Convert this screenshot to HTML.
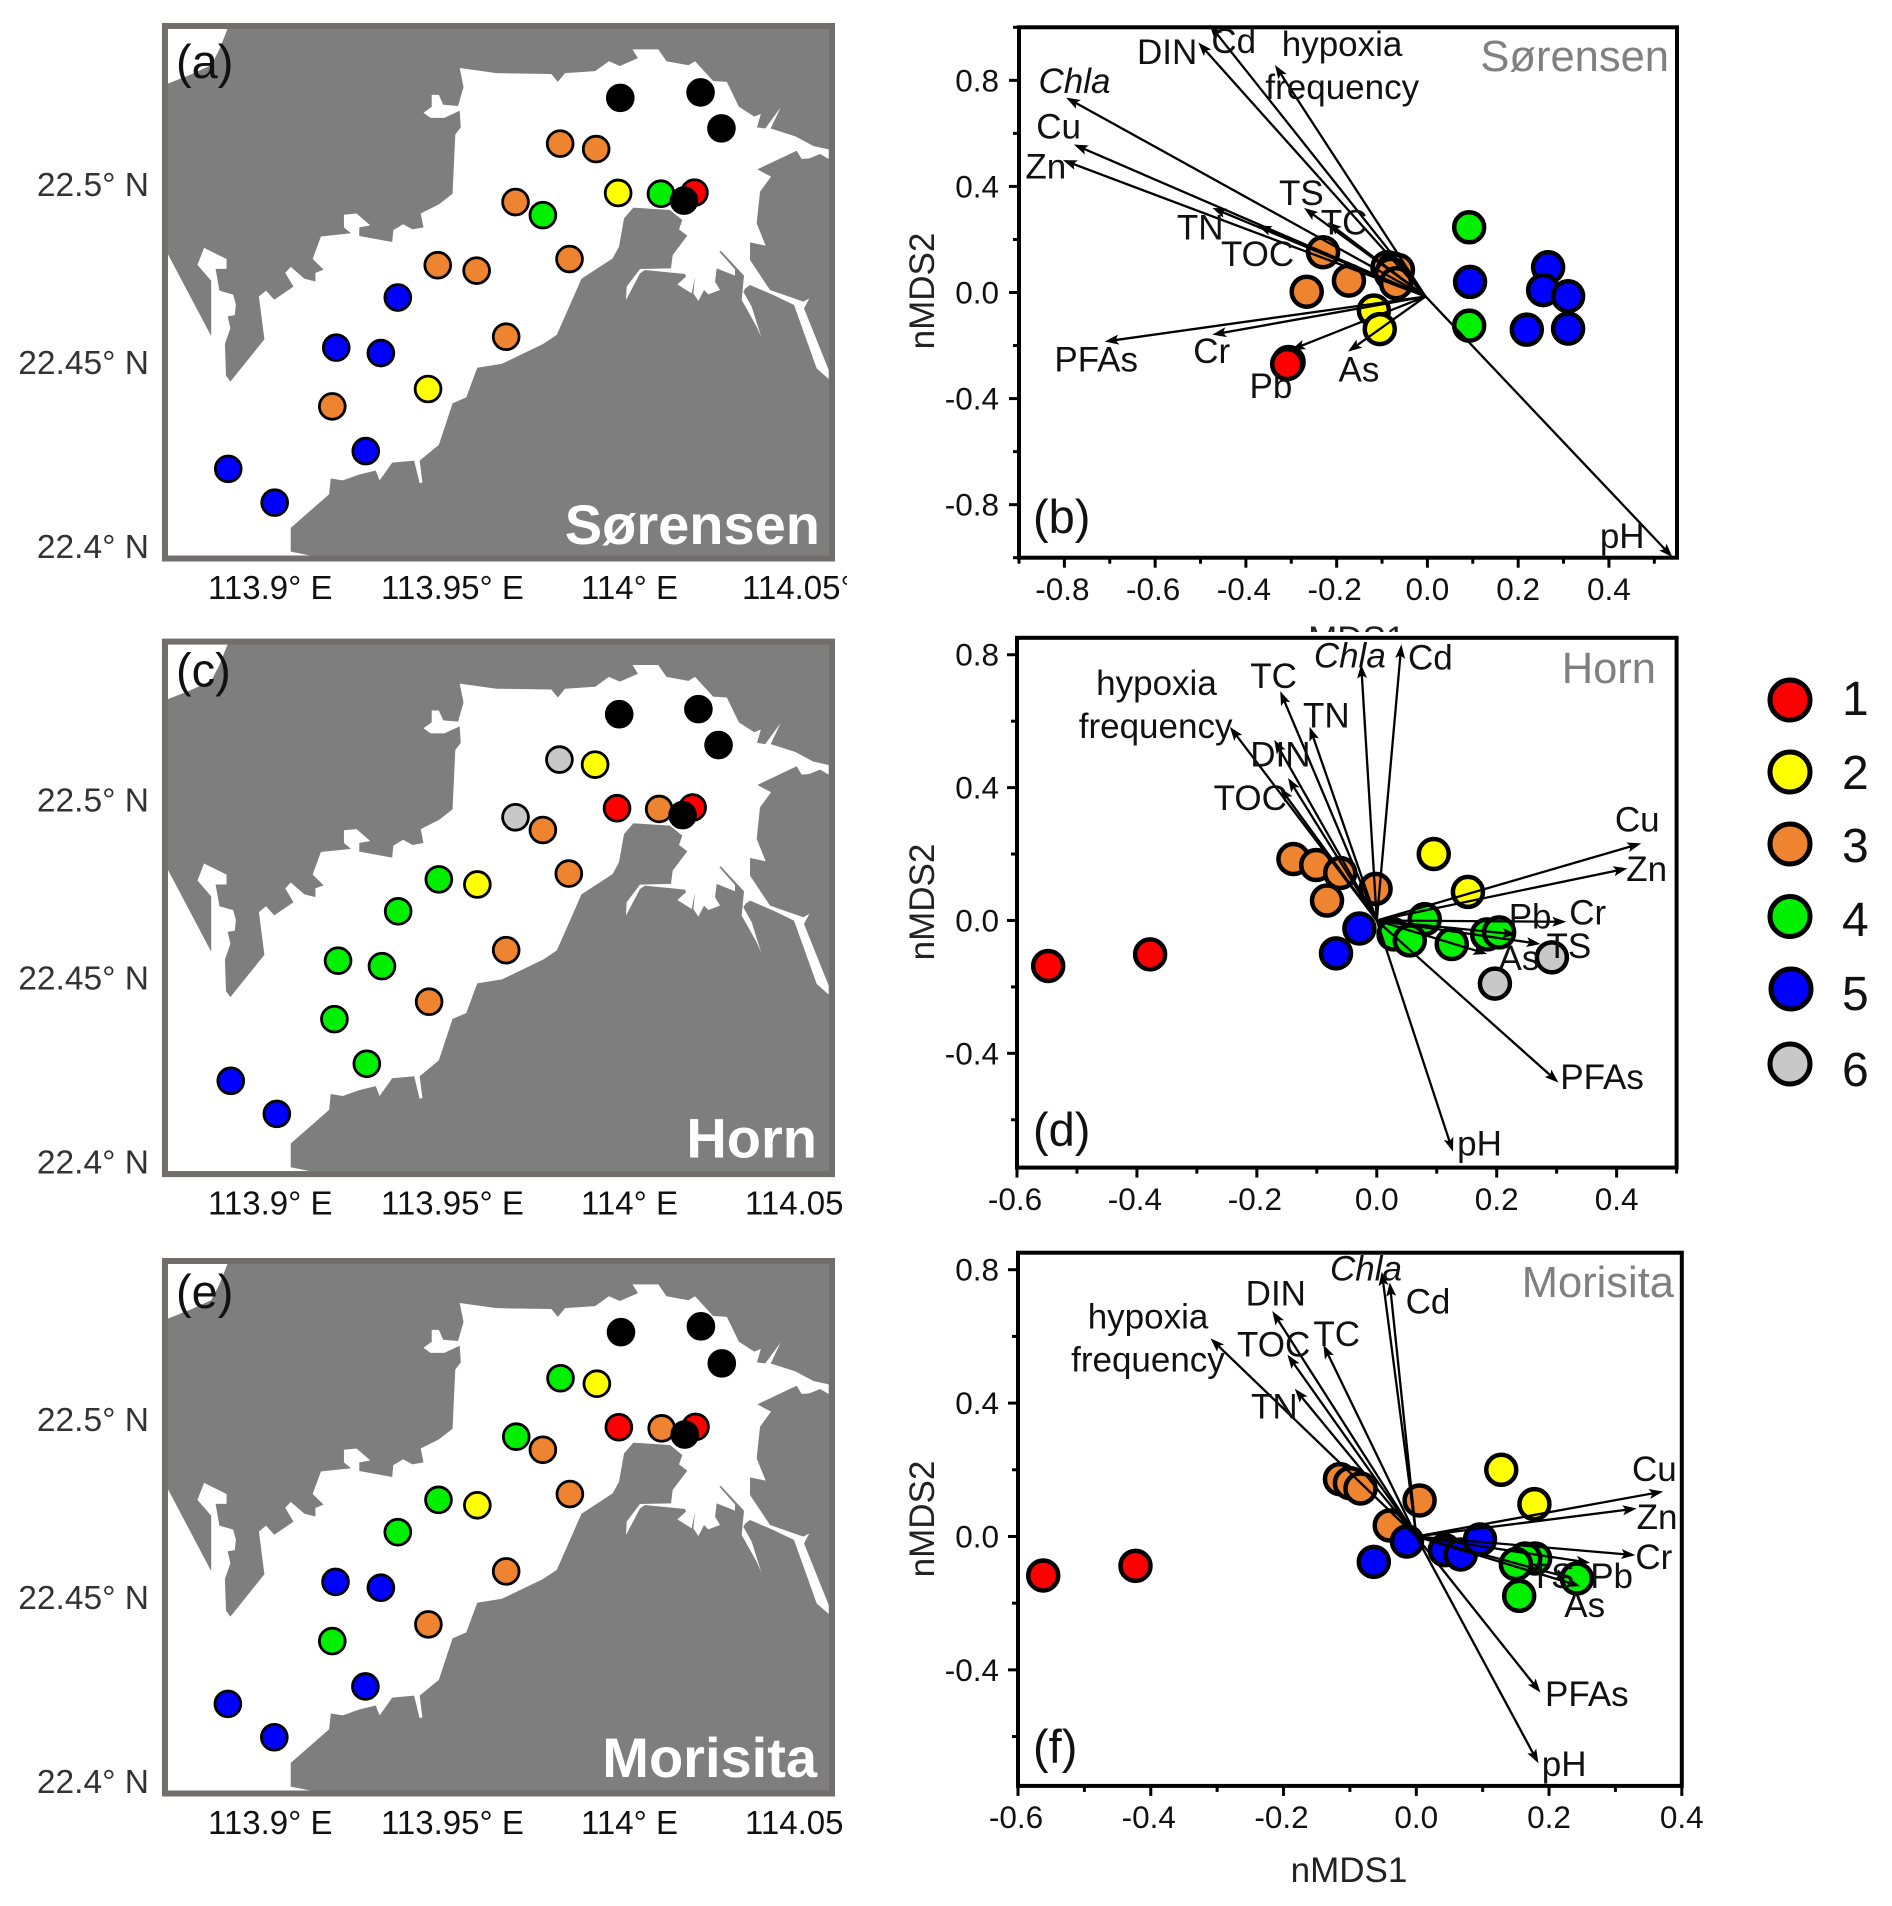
<!DOCTYPE html>
<html lang="en">
<head>
<meta charset="utf-8">
<title>nMDS biplots and station cluster maps</title>
<style>
html,body{margin:0;padding:0;background:#fff;}
svg{display:block;font-family:"Liberation Sans",Arial,sans-serif;}
.lat{font-size:33.5px;fill:#333;text-anchor:end;}
.lon{font-size:33px;fill:#111;}
.letter{font-size:47px;fill:#111;}
.wm{font-size:56px;font-weight:bold;fill:#fff;text-anchor:end;}
.ttl{font-size:43.5px;fill:#808080;text-anchor:end;}
.axt{font-size:35px;fill:#222;text-anchor:middle;}
.lgd{font-size:48px;fill:#111;}
.tick{font-size:31.5px;fill:#111;}
.var{font-size:35px;fill:#111;}
</style>
</head>
<body>
<svg id="figure" xmlns="http://www.w3.org/2000/svg" width="1892" height="1906" viewBox="0 0 1892 1906">
<defs>
<polygon id="water-main" points="305,1405 305,640 385,850 385,710 360,670 372,627 413,655 413,680 393,680 400,735 425,745 430,770 428,797 415,800 420,830 410,870 412,950 420,965 482,858 472,750 485,735 500,758 535,725 520,690 530,675 555,705 575,712 575,690 590,682 570,655 585,598 640,590 627,575 627,543 650,540 675,570 655,575 655,597 715,612 717,582 735,567 752,580 772,575 767,540 800,517 825,490 830,340 840,322 838,280 810,298 785,298 772,285 787,270 787,240 800,240 808,265 835,268 845,220 838,172 905,185 1005,187 1017,207 1030,185 1085,180 1110,155 1130,167 1163,147 1153,125 1200,125 1215,155 1255,165 1267,155 1300,205 1325,207 1347,270 1375,295 1387,288 1380,322 1395,325 1423,272 1405,325 1450,345 1482.7,369.3 1510.7,377.7 1510.7,402.1 1494.9,389.5 1475.4,400.5 1461.5,402.1 1452.3,381.1 1380.6,428.3 1405.6,446.8 1385.5,484.8 1379.4,564.8 1395.8,621.3 1367.3,612.9 1367.3,657.6 1403.7,733.4 1464.5,762.9 1475.4,754.5 1465.7,779.8 1510.7,935.8 1510.7,958.5 1488.8,931.5 1447.5,771.4 1409.8,746.1 1367.3,720.8 1358.8,729.2 1355.1,737.7 1370.3,775.6 1387.9,853.2 1379.4,826.2 1352.1,758.7 1356.3,697.2 1313.8,634 1311.4,636.5 1339.9,681.2 1339.9,697.2 1306.5,678.6 1303.5,712.4 1312.6,733.4 1291.3,744.4 1283.4,733.4 1273.1,761.3 1264,741.9 1267,699.7 1260.9,741.9 1234.8,719.1 1250.6,699.7 1248.8,693 1175.8,682.9 1166.7,691.3 1141.2,758.7 1142.4,725 1166.7,680.3 1223.2,678.6 1226.3,645 1253,596 1237.8,580 1243.9,556.4 1221.4,531.1 1154.6,525.2 1137.6,552.2 1128.4,623.9 1116.9,653.4 1060,705 1015,847 990,870 915,920 870,930 850,1005 825,1020 800,1125 765,1165 770,1220 765,1222 755,1165 715,1170 692,1215 685,1190 655,1200 625,1215 603,1210 600,1250 530,1335 530,1395 565,1405"/>
<polygon id="water-corner" points="305,72 415,72 400,125 385,165 345,190 305,212"/>
<clipPath id="fragment-clip"><rect x="1290" y="622" width="130" height="10"/></clipPath>
<clipPath id="lon-clip"><rect x="700" y="560" width="147" height="60"/></clipPath>
</defs>

<!-- MAP A -->
<g>
  <rect x="165" y="26" width="667" height="532.5" fill="#7e7e7e"/>
  <g transform="scale(0.54855,0.39541)">
    <use href="#water-main" fill="#fff"/>
    <use href="#water-corner" fill="#fff"/>
  </g>
  <rect x="165" y="26" width="667" height="532.5" fill="none" stroke="#736e6e" stroke-width="6"/>
  <g id="dots-a"></g>
  <text class="lat" x="149" y="196">22.5° N</text>
  <text class="lat" x="149" y="374">22.45° N</text>
  <text class="lat" x="149" y="558">22.4° N</text>
  <text class="lon" x="208" y="599">113.9° E</text>
  <text class="lon" x="381" y="599">113.95° E</text>
  <text class="lon" x="581" y="599">114° E</text>
  <text class="lon" x="742" y="599" clip-path="url(#lon-clip)">114.05° E</text>
  <text class="letter" x="176" y="78">(a)</text>
  <text class="wm" x="820" y="544">Sørensen</text>
</g>

<!-- MAP C -->
<g transform="translate(0,615.6)">
  <rect x="165" y="26" width="667" height="532.5" fill="#7e7e7e"/>
  <g transform="scale(0.54855,0.39541)">
    <use href="#water-main" fill="#fff"/>
    <use href="#water-corner" fill="#fff"/>
  </g>
  <rect x="165" y="26" width="667" height="532.5" fill="none" stroke="#736e6e" stroke-width="6"/>
  <g id="dots-c"></g>
  <text class="lat" x="149" y="196">22.5° N</text>
  <text class="lat" x="149" y="374">22.45° N</text>
  <text class="lat" x="149" y="558">22.4° N</text>
  <text class="lon" x="208" y="599">113.9° E</text>
  <text class="lon" x="381" y="599">113.95° E</text>
  <text class="lon" x="581" y="599">114° E</text>
  <text class="lon" x="745" y="599">114.05</text>
  <text class="letter" x="176" y="71">(c)</text>
  <text class="wm" x="817" y="542">Horn</text>
</g>

<!-- MAP E -->
<g transform="translate(0,1235)">
  <rect x="165" y="26" width="667" height="532.5" fill="#7e7e7e"/>
  <g transform="scale(0.54855,0.39541)">
    <use href="#water-main" fill="#fff"/>
    <use href="#water-corner" fill="#fff"/>
  </g>
  <rect x="165" y="26" width="667" height="532.5" fill="none" stroke="#736e6e" stroke-width="6"/>
  <g id="dots-e"></g>
  <text class="lat" x="149" y="196">22.5° N</text>
  <text class="lat" x="149" y="374">22.45° N</text>
  <text class="lat" x="149" y="558">22.4° N</text>
  <text class="lon" x="208" y="599">113.9° E</text>
  <text class="lon" x="381" y="599">113.95° E</text>
  <text class="lon" x="581" y="599">114° E</text>
  <text class="lon" x="745" y="599">114.05</text>
  <text class="letter" x="176" y="73">(e)</text>
  <text class="wm" x="817" y="542">Morisita</text>
</g>

<!-- BIPLOTS -->
<g id="plot-b"></g>
<g id="plot-d"></g>
<g id="plot-f"></g>

<text class="ttl" x="1669" y="71">Sørensen</text>
<text class="ttl" x="1656" y="683">Horn</text>
<text class="ttl" x="1674" y="1297">Morisita</text>
<text class="letter" x="1033" y="533">(b)</text>
<text class="letter" x="1033" y="1146">(d)</text>
<text class="letter" x="1033" y="1763">(f)</text>
<text class="axt" transform="translate(934,291) rotate(-90)">nMDS2</text>
<text class="axt" transform="translate(934,902) rotate(-90)">nMDS2</text>
<text class="axt" transform="translate(934,1519) rotate(-90)">nMDS2</text>
<text class="axt" x="1349" y="1882">nMDS1</text>
<text class="axt" x="1347" y="651" clip-path="url(#fragment-clip)">nMDS1</text>

<!-- LEGEND -->
<g stroke="#000" stroke-width="5">
  <circle cx="1790" cy="700" r="20" fill="#ff0000"/>
  <circle cx="1790" cy="772" r="20" fill="#ffff00"/>
  <circle cx="1790" cy="844" r="20" fill="#ee8430"/>
  <circle cx="1790" cy="916.5" r="20" fill="#00f000"/>
  <circle cx="1791" cy="989" r="20" fill="#0000ff"/>
  <circle cx="1790" cy="1064" r="20" fill="#c8c8c8"/>
</g>
<text class="lgd" x="1842" y="715">1</text>
<text class="lgd" x="1842" y="789">2</text>
<text class="lgd" x="1842" y="862">3</text>
<text class="lgd" x="1842" y="936">4</text>
<text class="lgd" x="1842" y="1010">5</text>
<text class="lgd" x="1842" y="1086">6</text>
</svg>

<script>
// ---------- Map station data (longitude, latitude, cluster class; 0 = excluded/black) ----------
const mapLonA = [113.9973,114.0196,114.0254,113.9806,113.9906,113.9967,114.0086,114.0179,114.0150,113.9682,113.9758,113.9832,113.9466,113.9574,113.9355,113.9656,113.9184,113.9308,113.9439,113.9173,113.9266,113.8884,113.9013];
const mapLatA = [22.5240,22.5255,22.5156,22.5114,22.5099,22.4978,22.4976,22.4979,22.4957,22.4953,22.4917,22.4796,22.4779,22.4764,22.4690,22.4582,22.4552,22.4537,22.4438,22.4390,22.4267,22.4218,22.4125];
const mapClassA = [0,0,0,3,3,2,4,1,0,3,4,3,3,3,5,3,5,5,2,3,5,5,5];

const mapLonC = [113.9970,114.0190,114.0246,113.9804,113.9903,113.9964,114.0081,114.0174,114.0146,113.9682,113.9758,113.9830,113.9469,113.9576,113.9356,113.9656,113.9189,113.9311,113.9442,113.9179,113.9269,113.8891,113.9019];
const mapLatC = [22.5238,22.5252,22.5153,22.5113,22.5099,22.4979,22.4977,22.4981,22.4960,22.4954,22.4919,22.4799,22.4783,22.4769,22.4695,22.4588,22.4559,22.4544,22.4446,22.4398,22.4275,22.4228,22.4137];
const mapClassC = [0,0,0,6,2,1,3,1,0,6,3,3,4,2,4,3,4,4,3,4,4,5,5];

const mapLonE = [113.9975,114.0197,114.0255,113.9807,113.9908,113.9969,114.0088,114.0182,114.0152,113.9684,113.9758,113.9833,113.9468,113.9576,113.9355,113.9656,113.9182,113.9308,113.9440,113.9173,113.9265,113.8883,113.9012];
const mapLatE = [22.5242,22.5258,22.5156,22.5115,22.5100,22.4980,22.4977,22.4981,22.4960,22.4954,22.4918,22.4796,22.4780,22.4765,22.4691,22.4583,22.4554,22.4538,22.4437,22.4391,22.4266,22.4218,22.4126];
const mapClassE = [0,0,0,4,2,1,3,1,0,4,3,3,4,2,4,3,5,5,3,4,5,5,5];

// ---------- Biplot (b) Sørensen ----------
const xTickLabelsB = ["-0.8","-0.6","-0.4","-0.2","0.0","0.2","0.4"];
const yTickLabelsB = ["0.8","0.4","0.0","-0.4","-0.8"];
const pointX_B = [0.092,0.094,0.092,0.266,0.255,0.31,0.219,0.31,-0.23,-0.266,-0.173,-0.088,-0.075,-0.065,-0.08,-0.069,-0.118,-0.105,-0.306,-0.309];
const pointY_B = [0.246,0.04,-0.125,0.095,0.009,-0.014,-0.14,-0.136,0.152,0.003,0.045,0.095,0.09,0.085,0.07,0.035,-0.068,-0.138,-0.262,-0.27];
const pointClass_B = [4,5,4,5,5,5,5,5,3,3,3,3,3,3,3,3,2,2,0,1];
const arrowNames_B = ["pH","hypoxia","Cd","DIN","Chla","Cu","Zn","TN","TOC","TS","TC","PFAs","Cr","Pb","As"];
const arrowX_B = [0.54,-0.336,-0.48,-0.505,-0.796,-0.779,-0.803,-0.474,-0.374,-0.272,-0.22,-0.711,-0.474,-0.30,-0.175];
const arrowY_B = [-0.998,0.858,1.01,0.943,0.735,0.558,0.499,0.319,0.253,0.319,0.265,-0.185,-0.159,-0.216,-0.223];
const labelText_B = ["DIN","Cd","hypoxia","frequency","Chla","Cu","Zn","TS","TC","TN","TOC","PFAs","Cr","Pb","As","pH"];
const labelX_B = [-0.640,-0.476,-0.321,-0.357,-0.857,-0.862,-0.886,-0.327,-0.235,-0.552,-0.455,-0.822,-0.516,-0.392,-0.196,0.380];
const labelY_B = [0.861,0.904,0.892,0.730,0.753,0.581,0.430,0.330,0.219,0.199,0.099,-0.297,-0.266,-0.397,-0.336,-0.964];

// ---------- Biplot (d) Horn ----------
const xTickLabelsD = ["-0.6","-0.4","-0.2","0.0","0.2","0.4"];
const yTickLabelsD = ["0.8","0.4","0.0","-0.4"];
const pointX_D = [-0.548,-0.378,-0.139,-0.101,-0.061,-0.083,-0.002,0.095,0.152,-0.029,-0.068,0.08,0.028,0.055,0.125,0.184,0.204,0.292,0.197];
const pointY_D = [-0.137,-0.102,0.185,0.167,0.143,0.06,0.095,0.2,0.086,-0.024,-0.099,0.004,-0.042,-0.06,-0.071,-0.042,-0.036,-0.111,-0.19];
const pointClass_D = [1,1,3,3,3,3,3,2,2,5,5,4,4,4,4,4,4,6,6];
const arrowNames_D = ["Chla","Cd","TC","TN","hypoxia","DIN","TS2","TOC","Cu","Zn","Cr","Pb","TS","As","PFAs","pH"];
const arrowX_D = [-0.026,0.041,-0.161,-0.112,-0.245,-0.171,-0.148,-0.161,0.441,0.418,0.316,0.233,0.273,0.184,0.303,0.127];
const arrowY_D = [0.771,0.831,0.69,0.583,0.583,0.544,0.429,0.399,0.232,0.157,-0.004,-0.042,-0.071,-0.101,-0.488,-0.696];
const labelText_D = ["Chla","Cd","TC","TN","hypoxia","frequency","DIN","TOC","Cu","Zn","Pb","Cr","TS","As","PFAs","pH"];
const labelX_D = [-0.105,0.052,-0.211,-0.123,-0.468,-0.497,-0.211,-0.272,0.397,0.416,0.22,0.321,0.283,0.203,0.306,0.134];
const labelY_D = [0.762,0.756,0.70,0.581,0.679,0.55,0.464,0.333,0.268,0.119,-0.024,-0.012,-0.113,-0.149,-0.508,-0.708];

// ---------- Biplot (f) Morisita ----------
const xTickLabelsF = ["-0.6","-0.4","-0.2","0.0","0.2","0.4"];
const yTickLabelsF = ["0.8","0.4","0.0","-0.4"];
const pointX_F = [-0.562,-0.423,-0.115,-0.1,-0.084,-0.04,0.005,0.128,0.178,-0.064,0.043,0.067,0.096,-0.014,0.179,0.164,0.15,0.242,0.155];
const pointY_F = [-0.117,-0.088,0.172,0.16,0.144,0.033,0.108,0.2,0.097,-0.076,-0.041,-0.054,-0.009,-0.015,-0.066,-0.066,-0.083,-0.126,-0.178];
const pointClass_F = [1,1,3,3,3,3,3,2,2,5,5,5,5,5,4,4,4,4,4];
const arrowNames_F = ["Chla","Cd","DIN","TOC","TC","hypoxia","TN","Cu","Zn","Cr","Pb","TS","As","PFAs","pH"];
const arrowX_F = [-0.052,-0.04,-0.217,-0.194,-0.14,-0.31,-0.183,0.372,0.332,0.33,0.262,0.231,0.247,0.187,0.184];
const arrowY_F = [0.794,0.762,0.676,0.545,0.575,0.594,0.443,0.135,0.084,-0.056,-0.079,-0.124,-0.149,-0.468,-0.68];
const labelText_F = ["Chla","Cd","DIN","hypoxia","frequency","TOC","TC","TN","Cu","Zn","Cr","Pb","TS","As","PFAs","pH"];
const labelX_F = [-0.130,-0.016,-0.257,-0.495,-0.52,-0.27,-0.155,-0.249,0.325,0.332,0.33,0.262,0.171,0.223,0.194,0.189];
const labelY_F = [0.768,0.669,0.692,0.624,0.494,0.539,0.571,0.354,0.166,0.023,-0.098,-0.155,-0.155,-0.242,-0.508,-0.718];

const SVGNS = "http://www.w3.org/2000/svg";
const classColor = {0:"#000000",1:"#ff0000",2:"#ffff00",3:"#ee8430",4:"#00f000",5:"#0000ff",6:"#c8c8c8"};

function make(tag, parent) {
  const n = document.createElementNS(SVGNS, tag);
  parent.appendChild(n);
  return n;
}
function setAll(n, props) {
  for (const k in props) n.setAttribute(k, props[k]);
}

// Map axis functions
function lonToX(lon) { return 270 + (lon - 113.9) * 3600; }
function latToY(lat) { return 185 + (22.5 - lat) * 3630; }

function drawMap(id, lons, lats, classes) {
  const g = document.getElementById(id);
  for (let i = 0; i < lons.length; i++) {
    const c = make("circle", g);
    setAll(c, {cx: lonToX(lons[i]), cy: latToY(lats[i]), r: 12.9, fill: classColor[classes[i]], stroke: "#000", "stroke-width": 2.8});
    
    
  }
}
drawMap("dots-a", mapLonA, mapLatA, mapClassA);
drawMap("dots-c", mapLonC, mapLatC, mapClassC);
drawMap("dots-e", mapLonE, mapLatE, mapClassE);

function drawBiplot(cfg) {
  const g = document.getElementById(cfg.id);
  const sx = v => cfg.left + (v - cfg.xMin) / (cfg.xMax - cfg.xMin) * (cfg.right - cfg.left);
  const sy = v => cfg.top + (cfg.yMax - v) / (cfg.yMax - cfg.yMin) * (cfg.bottom - cfg.top);

  // points
  for (let i = 0; i < cfg.px.length; i++) {
    const c = make("circle", g);
    setAll(c, {cx: sx(cfg.px[i]), cy: sy(cfg.py[i]), r: 15, fill: classColor[cfg.pc[i]], stroke: "#000", "stroke-width": 4.5});
    
    
  }

  // arrows
  for (let i = 0; i < cfg.ax.length; i++) {
    const x0 = sx(cfg.ox), y0 = sy(cfg.oy), x1 = sx(cfg.ax[i]), y1 = sy(cfg.ay[i]);
    const len = Math.hypot(x1 - x0, y1 - y0), ux = (x1 - x0) / len, uy = (y1 - y0) / len;
    const ln = make("line", g);
    setAll(ln, {x1: x0, y1: y0, x2: x1 - ux * 8, y2: y1 - uy * 8, stroke: "#000", "stroke-width": 2.3});
    
    
    const bx = x1 - ux * 14, by = y1 - uy * 14, nx = -uy, ny = ux;
    const head = make("polygon", g);
    head.setAttribute("points", [x1 + "," + y1, (bx + nx * 5) + "," + (by + ny * 5), (x1 - ux * 11) + "," + (y1 - uy * 11), (bx - nx * 5) + "," + (by - ny * 5)].join(" "));
    head.setAttribute("fill", "#000");
    
    
  }

  // frame
  const fr = make("rect", g);
  setAll(fr, {x: cfg.left, y: cfg.top, width: cfg.right - cfg.left, height: cfg.bottom - cfg.top, fill: "none", stroke: "#000", "stroke-width": 4});
  
  

  // x ticks
  for (let i = cfg.xMinorFrom; i <= cfg.xMax + 1e-9; i += 0.1) {
    const v = Math.round(i * 10) / 10;
    const major = cfg.xt.some(t => Math.abs(parseFloat(t) - v) < 1e-6);
    const t = make("line", g);
    setAll(t, {x1: sx(v), x2: sx(v), y1: cfg.bottom, y2: cfg.bottom + (major ? 10 : 6), stroke: "#000", "stroke-width": 3});
    
    
  }
  cfg.xt.forEach(function (lab) {
    const t = make("text", g);
    setAll(t, {x: sx(parseFloat(lab)) - (lab[0] === "-" ? 2 : 0), y: cfg.xLabelY, "text-anchor": "middle", "class": "tick"});
    t.textContent = lab;
    
    
  });

  // y ticks
  for (let i = -1.0; i <= 1.0 + 1e-9; i += 0.2) {
    const v = Math.round(i * 10) / 10;
    if (v < cfg.yMin - 1e-6 || v > cfg.yMax + 1e-6) continue;
    const major = cfg.yt.some(t => Math.abs(parseFloat(t) - v) < 1e-6);
    const t = make("line", g);
    setAll(t, {y1: sy(v), y2: sy(v), x1: cfg.left, x2: cfg.left - (major ? 10 : 6), stroke: "#000", "stroke-width": 3});
    
    
  }
  cfg.yt.forEach(function (lab) {
    const t = make("text", g);
    setAll(t, {x: 999, y: sy(parseFloat(lab)) + 11, "text-anchor": "end", "class": "tick"});
    t.textContent = lab;
    
    
  });

  // variable labels
  for (let i = 0; i < cfg.lt.length; i++) {
    const t = make("text", g);
    setAll(t, {x: sx(cfg.lx[i]), y: sy(cfg.ly[i]), "class": "var"});
    if (cfg.lt[i] === "Chla") t.setAttribute("font-style", "italic");
    t.textContent = cfg.lt[i];
    
    
  }
}

drawBiplot({id:"plot-b",left:1019,right:1677,top:27.3,bottom:557.7,xMin:-0.9,xMax:0.55,yMin:-1,yMax:1,xMinorFrom:-0.9,xLabelY:600,ox:-0.004,oy:-0.015,
  px:pointX_B,py:pointY_B,pc:pointClass_B,ax:arrowX_B,ay:arrowY_B,an:arrowNames_B,lt:labelText_B,lx:labelX_B,ly:labelY_B,xt:xTickLabelsB,yt:yTickLabelsB});
drawBiplot({id:"plot-d",left:1017,right:1676.6,top:637.8,bottom:1167.6,xMin:-0.6,xMax:0.5,yMin:-0.744,yMax:0.851,xMinorFrom:-0.6,xLabelY:1210,ox:0,oy:0,
  px:pointX_D,py:pointY_D,pc:pointClass_D,ax:arrowX_D,ay:arrowY_D,an:arrowNames_D,lt:labelText_D,lx:labelX_D,ly:labelY_D,xt:xTickLabelsD,yt:yTickLabelsD});
drawBiplot({id:"plot-f",left:1018,right:1681.8,top:1252.7,bottom:1785.9,xMin:-0.6,xMax:0.4,yMin:-0.748,yMax:0.851,xMinorFrom:-0.6,xLabelY:1828,ox:0,oy:0,
  px:pointX_F,py:pointY_F,pc:pointClass_F,ax:arrowX_F,ay:arrowY_F,an:arrowNames_F,lt:labelText_F,lx:labelX_F,ly:labelY_F,xt:xTickLabelsF,yt:yTickLabelsF});
</script>
</body>
</html>
